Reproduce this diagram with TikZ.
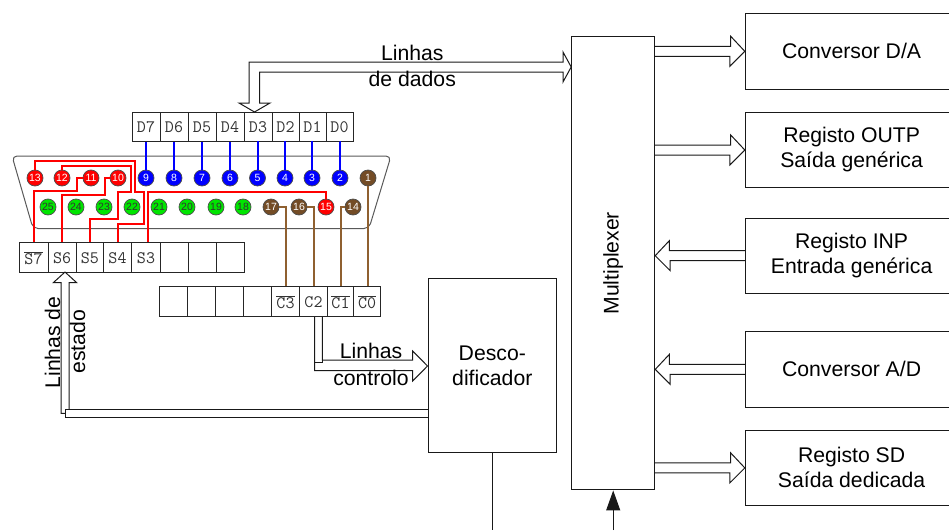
\documentclass[tikz,border=0pt]{standalone}
\usepackage{fontspec}
\setmainfont{Liberation Sans}
\usetikzlibrary{arrows.meta}
\newcommand{\barred}[1]{\ensuremath{\overline{\hbox{#1}}}}
\tikzset{
  bus/.style={draw=black!90,line width=1pt,line join=miter},
  blockbox/.style={draw=black!90,line width=1pt,inner sep=0pt,align=center,font=\fontsize{21.2}{25}\selectfont},
  lbl/.style={anchor=base,inner sep=0pt,font=\fontsize{21.2}{25}\selectfont},
  cell/.style={draw=black!85,line width=1pt,inner sep=0pt,minimum height=29.5pt,text=black!80,font=\ttfamily\fontsize{17.5}{17}\selectfont},
  pinbase/.style={circle,draw=black!70,line width=.7pt,inner sep=0pt,minimum size=16pt,font=\fontsize{10.5}{10}\selectfont},
  redpin/.style={pinbase,fill=red,text=white},
  bluepin/.style={pinbase,fill=blue,text=white},
  greenpin/.style={pinbase,fill=green!90!black,text=black!80},
  brownpin/.style={pinbase,fill=brown!60!black,text=white},
  redwire/.style={draw=red,line width=2pt},
  bluewire/.style={draw=blue,line width=2pt},
  brownwire/.style={draw=brown!75!black,line width=2pt},
}
\begin{document}
\begin{tikzpicture}[x=1pt,y=-1pt]
      \useasboundingbox (0,0) rectangle (949,530);
      \clip (0,0) rectangle (949,530);
      % blocks
      \node[blockbox,minimum width=83pt,minimum height=453.5pt] (mux) at (613.2,263.2) {};
      \node[rotate=90,font=\fontsize{21.2}{25}\selectfont] (muxtext) at (mux.center) {Multiplexer};
      \node[blockbox,minimum width=128.6pt,minimum height=174pt] (decod) at (492.3,365.7) {Desco-\\dificador};
      \node[blockbox,minimum width=212.6pt,minimum height=75.4pt] (da) at (851.6,51.3) {Conversor D/A};
      \node[blockbox,minimum width=212.6pt,minimum height=75.4pt] (outp) at (851.6,150) {Registo OUTP\\Saída genérica};
      \node[blockbox,minimum width=212.6pt,minimum height=75.4pt] (inp) at (851.6,255.7) {Registo INP\\Entrada genérica};
      \node[blockbox,minimum width=212.6pt,minimum height=75.4pt] (ad) at (851.6,369.4) {Conversor A/D};
      \node[blockbox,minimum width=212.6pt,minimum height=75.4pt] (sd) at (851.6,467.9) {Registo SD\\Saída dedicada};
      % registers
      \foreach \cn/\cx/\cw/\ct in {d7/146/28/D7,d6/174/28/D6,d5/202/28/D5,d4/230/28/D4,d3/258/28/D3,d2/285.5/27/D2,d1/312.5/27/D1,d0/339.5/27/D0}
        \node[cell,minimum width=\cw pt] (\cn) at (\cx,127.2) {\ct};
      \foreach \cn/\cx/\cw/\ct in {s7/33.5/29/{\barred{S7}},s6/62.2/28.4/S6,s5/89.8/26.8/S5,s4/117.5/28.6/S4,s3/146/28.4/S3,sa/174/28/{},sb/202/28/{},sc/230/28/{}}
        \node[cell,minimum width=\cw pt] (\cn) at (\cx,257.7) {\ct};
      \foreach \cn/\cx/\cw/\ct in {ca/173.5/28/{},cb/201.5/28/{},cc/229.3/27.8/{},cd/257.3/28.2/{},c3/285.5/28/{\barred{C3}},c2/313.5/28/C2,c1/340.5/26/{\barred{C1}},c0/367.2/27.4/{\barred{C0}}}
        \node[cell,minimum width=\cw pt] (\cn) at (\cx,301.7) {\ct};
      % connector
      \draw[draw=black!65,line width=1pt,rounded corners=5pt] (12,156) -- (391,156) -- (369,228.5) -- (33,228.5) -- cycle;
      \foreach \pn/\px in {13/35,12/62,11/91,10/118,15/326}
        \node[redpin] (p\pn) at (\px,{\pn==15 ? 207 : 178}) {\pn};
      \foreach \pn/\px in {9/146,8/174,7/202,6/230,5/257.5,4/285,3/312,2/340}
        \node[bluepin] (p\pn) at (\px,178) {\pn};
      \foreach \pn/\px in {25/48,24/76,23/104,22/132,21/159,20/187,19/216,18/243}
        \node[greenpin] (p\pn) at (\px,207) {\pn};
      \foreach \pn/\px in {17/271,16/299,14/353}
        \node[brownpin] (p\pn) at (\px,207) {\pn};
      \node[brownpin] (p1) at (368,178) {1};
      % wires
      \foreach \cn/\pn in {d7/9,d6/8,d5/7,d4/6,d3/5,d2/4,d1/3,d0/2}
        \draw[bluewire] (\cn.south) -- (\cn.south -| p\pn.north) -- (p\pn.north);
      \draw[redwire] (p13.north) -- (35,161) -- (135,161) -- (135,191.7) -- (144,191.7) -- (144,224) -- (117.5,224) -- (s4.north);
      \draw[redwire] (p12.north) -- (62,165.7) -- (130.7,165.7) -- (130.7,192.3) -- (118.3,192.3) -- (118.3,219.3) -- (89.8,219.3) -- (s5.north);
      \draw[redwire] (p11.west) -- (77.3,178) -- (77.3,190.7) -- (33.5,190.7) -- (s7.north);
      \draw[redwire] (p10.west) -- (105,178) -- (105,195) -- (62.2,195) -- (s6.north);
      \draw[redwire] (p15.north) -- (326,192) -- (148.3,192) -- (s3.north -| 148.3,0);
      \draw[brownwire] (p17.east) -| (c3.north);
      \draw[brownwire] (p16.east) -| (c2.north);
      \draw[brownwire] (p14.west) -| (c1.north);
      \draw[brownwire] (p1.south) -- (p1.south |- c0.north);
      % buses
      \foreach \bn in {da,outp,sd}
        \draw[bus] (mux.east |- \bn.west) ++(0,-5) -- ++(75.5,0) -- ++(0,-10) -- (\bn.west) -- ++(-15,15) -- ++(0,-10) -- ++(-75.5,0);
      \foreach \bn in {inp,ad}
        \draw[bus] (\bn.west) ++(0,-5) -- ++(-75.5,0) -- ++(0,-10) -- (mux.east |- \bn.west) -- ++(15,15) -- ++(0,-10) -- ++(75.5,0);
      \coordinate (datain) at (mux.west |- 0,67);
      \coordinate (dataout) at (254.5,112);
      \draw[bus] (dataout) -- (239,103) -- (249,103) -- (249,62) -- (563,62) -- (563,52) -- (datain) -- (563,82) -- (563,72) -- (259.5,72) -- (259.5,103) -- (270,103) -- cycle;
      \coordinate (ctrlin) at (decod.west |- 0,366);
      \draw[bus] (c2.south -| 322.3,0) -- (322.3,360) -- (412.7,360) -- (412.7,351) -- (ctrlin) -- (412.7,381) -- (412.7,370.7) -- (314.7,370.7) -- (c2.south -| 314.7,0);
      \draw[bus] (314.7,362) -- (322.3,362) -- (322.3,360);
      \coordinate (statusout) at (65,272);
      \draw[bus] (decod.west |- 0,409.3) -- (65,409.3) -- (65,417) -- (decod.west |- 0,417);
      \draw[bus] (65,413.3) -- (61,413.3) -- (61,282.7) -- (53.3,282.7) -- (statusout) -- (76.7,282.7) -- (69,282.7) -- (69,409.3);
      \coordinate (decodout) at (decod.south |- 0,530);
      \coordinate (muxin) at (mux.south |- 0,530);
      \draw[line width=1pt,draw=black!90] (decod.south) -- (decodout);
      \draw[line width=1pt,draw=black!90,-{Triangle[width=14pt,length=20pt]}] (muxin) -- (mux.south);
      % labels
      \node[lbl] (datatop) at (412.3,60) {Linhas};
      \node[lbl] (databot) at (412.3,86) {de dados};
      \node[lbl] (ctrltop) at (371,358.7) {Linhas};
      \node[lbl] (ctrlbot) at (371,385) {controlo};
      \node[lbl,rotate=90] (statetop) at (60,342.5) {Linhas de};
      \node[lbl,rotate=90] (statebot) at (85,341.7) {estado};
\end{tikzpicture}
\end{document}
